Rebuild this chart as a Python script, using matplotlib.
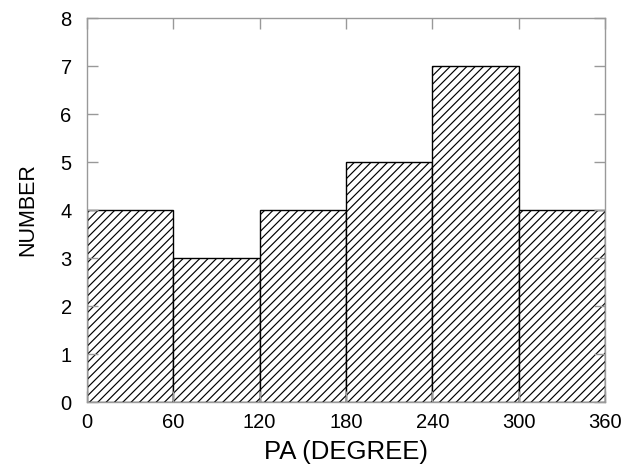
import matplotlib
matplotlib.use("Agg")
import matplotlib.pyplot as plt

plt.rcParams['font.family'] = ['Liberation Sans', 'DejaVu Sans']
plt.rcParams['hatch.color'] = '#5a5a5a'
plt.rcParams['hatch.linewidth'] = 0.85

# position-angle bins (degrees) and counts
bin_edges = [0, 60, 120, 180, 240, 300, 360]
counts = [4, 3, 4, 5, 7, 4]

fig = plt.figure(figsize=(6.35, 4.73), dpi=100)
ax = fig.add_axes([87 / 635, 1 - 402 / 473, (605 - 87) / 635, (402 - 18) / 473])

lefts = bin_edges[:-1]
widths = [bin_edges[i + 1] - bin_edges[i] for i in range(len(counts))]
ax.bar(lefts, counts, width=widths, align='edge', facecolor='white',
       edgecolor='black', linewidth=1.0, hatch='////')

ax.set_xlim(0, 360)
ax.set_ylim(0, 8)
ax.set_xticks(bin_edges)
ax.set_yticks(range(0, 9))

for sp in ax.spines.values():
    sp.set_color('#999999')
    sp.set_linewidth(1.0)
ax.tick_params(direction='in', length=8, width=1.0, color='#999999',
               top=True, right=True, labelsize=14.5)
ax.tick_params(axis='y', pad=11)
ax.tick_params(axis='x', pad=8)

ax.set_xlabel('PA (DEGREE)', fontsize=18.5, labelpad=6)
ax.set_ylabel('NUMBER', fontsize=15.5, labelpad=16)

fig.savefig('out.png', dpi=100)
